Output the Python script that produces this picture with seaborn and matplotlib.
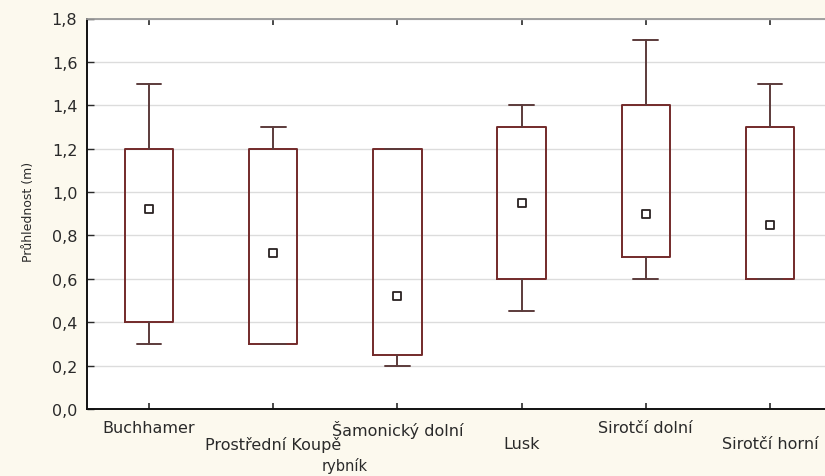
import matplotlib
matplotlib.use('Agg')
import matplotlib.pyplot as plt
import seaborn as sns

# ============================================================
# DATA
# ============================================================

rybniky = ['Buchhamer', 'Prostřední Koupě', 'Šamonický dolní',
           'Lusk', 'Sirotčí dolní', 'Sirotčí horní']
minimum = [0.30, 0.30, 0.20, 0.45, 0.60, 0.60]
q1 = [0.40, 0.30, 0.25, 0.60, 0.70, 0.60]
median = [0.92, 0.72, 0.52, 0.95, 0.90, 0.85]
q3 = [1.20, 1.20, 1.20, 1.30, 1.40, 1.30]
maximum = [1.50, 1.30, 1.20, 1.40, 1.70, 1.50]
yticks = [0.0, 0.2, 0.4, 0.6, 0.8, 1.0, 1.2, 1.4, 1.6, 1.8]

BOX_COLOR = '#732a2a'
WHISKER_COLOR = '#5c3b3b'
BG = '#fcf9ee'

sns.set_style('white')
plt.rcParams['font.family'] = ['DejaVu Sans']

fig = plt.figure(figsize=(8.25, 4.77), dpi=100, facecolor=BG)
# axes extends a bit past the right edge, like the cropped original
ax = fig.add_axes([87 / 825, 67 / 477, 745 / 825, 390.5 / 477])
ax.set_facecolor('white')

positions = list(range(len(rybniky)))
stats = []
for i, nome in enumerate(rybniky):
    stats.append({
        'label': nome, 'whislo': minimum[i], 'q1': q1[i], 'med': median[i],
        'q3': q3[i], 'whishi': maximum[i], 'fliers': [],
    })

ax.bxp(stats, positions=positions, widths=0.39, capwidths=0.2,
       showfliers=False, patch_artist=False,
       boxprops=dict(color=BOX_COLOR, linewidth=1.4),
       whiskerprops=dict(color=WHISKER_COLOR, linewidth=1.4),
       capprops=dict(color=WHISKER_COLOR, linewidth=1.4),
       medianprops=dict(linewidth=0))

# median marker (small open square, STATISTICA style)
sns.scatterplot(x=positions, y=median, marker='s', s=38, color='white',
                edgecolor='#2a2222', linewidth=1.3, zorder=5, ax=ax)

ax.set_xlim(-0.5, 5.5)
ax.set_ylim(0, 1.8)
ax.set_yticks(yticks)
ax.set_yticklabels([f'{v:.1f}'.replace('.', ',') for v in yticks])
ax.set_xticks(positions)
ax.set_xticklabels([n if i % 2 == 0 else '\n' + n for i, n in enumerate(rybniky)])

ax.yaxis.grid(True, color='#dcdcdc', linewidth=1)
ax.set_axisbelow(True)

for lado in ['left', 'bottom']:
    ax.spines[lado].set_color('#111111')
    ax.spines[lado].set_linewidth(1.4)
ax.spines['top'].set_color('#9a9a9a')
ax.spines['top'].set_linewidth(1.3)
ax.spines['right'].set_visible(False)

ax.tick_params(axis='y', direction='in', length=5, width=1, left=True,
               labelsize=11.5, pad=7, colors='#2a2a2a')
ax.tick_params(axis='x', direction='in', length=4, width=1.2, bottom=True,
               top=True, labelsize=11.5, pad=8, colors='#2a2a2a')
for lbl in ax.get_xticklabels():
    lbl.set_linespacing(1.05)

ax.set_xlabel('rybník', fontsize=10.5, color='#2a2a2a')
ax.xaxis.set_label_coords((345 - 87) / 745, (410 - 458) / 390.5)
ax.set_ylabel('Průhlednost (m)', fontsize=9, color='#2a2a2a')
ax.yaxis.set_label_coords((35 - 87) / 745, (410 - 212) / 390.5)

fig.savefig('out.png', dpi=100, facecolor=BG)
